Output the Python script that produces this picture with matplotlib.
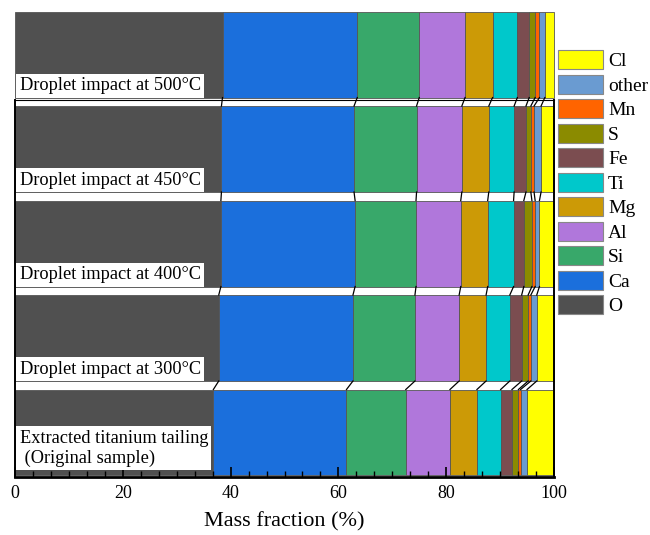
import numpy as np
import matplotlib
matplotlib.use('Agg')
import matplotlib.pyplot as plt
import matplotlib.ticker as mticker
from matplotlib.patches import Patch

plt.rcParams['font.family'] = ['Liberation Serif', 'DejaVu Serif']

# elements, bottom of the stack first
elements = ['O', 'Ca', 'Si', 'Al', 'Mg', 'Ti', 'Fe', 'S', 'Mn', 'other', 'Cl']
colors = ['#505050', '#1b6fdc', '#38a86a', '#b077db', '#cc9a06', '#00c8cb',
          '#7b4d50', '#8b8b00', '#ff6400', '#6a9bd1', '#ffff00']

samples = ['Extracted titanium tailing\n (Original sample)',
           'Droplet impact at 300°C',
           'Droplet impact at 400°C',
           'Droplet impact at 450°C',
           'Droplet impact at 500°C']

# mass fraction (%) per sample, same order as elements
original = [36.8, 24.7, 11.0, 8.2, 5.0, 4.4, 2.1, 1.2, 0.4, 1.2, 5.0]
t300 = [37.8, 24.9, 11.5, 8.2, 5.0, 4.4, 2.2, 1.2, 0.5, 1.1, 3.2]
t400 = [38.2, 24.9, 11.3, 8.3, 5.0, 4.8, 1.9, 1.5, 0.6, 0.8, 2.7]
t450 = [38.3, 24.6, 11.6, 8.4, 5.0, 4.7, 2.2, 0.9, 0.6, 1.3, 2.4]
t500 = [38.5, 25.0, 11.5, 8.5, 5.1, 4.6, 2.2, 1.1, 0.8, 1.0, 1.7]

data = np.array([original, t300, t400, t450, t500])
cum = np.cumsum(data, axis=1)
left = cum - data
ypos = np.arange(len(samples))
h = 0.91

fig = plt.figure(figsize=(6.5, 5.35), dpi=100)
ax = fig.add_axes([15/650, 58/535, 539/650, 377/535])

for k, el in enumerate(elements):
    bars = ax.barh(ypos, data[:, k], left=left[:, k], height=h, color=colors[k],
                   edgecolor='#555555', linewidth=0.6, label=el)
    for b in bars:
        b.set_clip_on(False)

# connecting lines between neighbouring bars
for i in range(len(samples) - 1):
    for k in range(len(elements) - 1):
        ax.plot([cum[i, k], cum[i+1, k]], [ypos[i] + h/2, ypos[i+1] - h/2],
                color='black', lw=0.9, clip_on=False, zorder=3)

# sample labels
for i, s in enumerate(samples):
    yb = ypos[i] - h/2 + (0.095 if i == 0 else 0.035)
    ax.text(0.85, yb, s, ha='left', va='bottom', fontsize=13.2, linespacing=1.2,
            bbox=dict(boxstyle='square,pad=0.18', fc='white', ec='none'), zorder=4)

ax.set_xlim(0, 100)
ax.set_ylim(-0.471, 3.519)
ax.set_yticks([])
ax.xaxis.set_major_locator(mticker.MultipleLocator(20))
ax.xaxis.set_minor_locator(mticker.MultipleLocator(20/6))
ax.tick_params(axis='x', which='major', direction='in', length=7, width=1.2,
               labelsize=13, pad=6)
ax.tick_params(axis='x', which='minor', direction='in', length=4, width=1.0)
ax.set_xlabel('Mass fraction (%)', fontsize=16, labelpad=7)

for sp in ['left', 'right']:
    ax.spines[sp].set_linewidth(1.4)
ax.spines['bottom'].set_linewidth(2)
ax.spines['top'].set_linewidth(0.8)

handles = [Patch(facecolor=colors[k], edgecolor='#888888', linewidth=0.8)
           for k in range(len(elements))][::-1]
fig.legend(handles, elements[::-1], loc='upper left',
           bbox_to_anchor=(558/650, 1 - 50/535), bbox_transform=fig.transFigure,
           frameon=False, borderpad=0, borderaxespad=0, fontsize=14,
           handlelength=2.3, handleheight=1.15, labelspacing=0.22,
           handletextpad=0.28)

fig.savefig('out.png', dpi=100)
